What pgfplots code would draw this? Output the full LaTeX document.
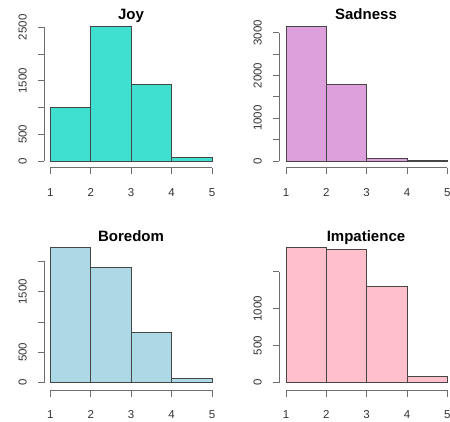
\documentclass[border=0pt]{standalone}
\usepackage{fontspec}
\setmainfont{Liberation Sans}
\usepackage{pgfplots}
\pgfplotsset{compat=1.18}
\definecolor{rturq}{RGB}{64,224,208}
\definecolor{rplum}{RGB}{221,160,221}
\definecolor{rlblue}{RGB}{173,216,230}
\definecolor{rpink}{RGB}{255,192,203}
\definecolor{axgray}{RGB}{110,110,110}
\definecolor{bargray}{RGB}{70,70,70}
\pgfplotsset{
  rhist/.style={
    anchor=south west,
    axis x line*=bottom, axis y line*=left,
    axis line style={draw=none},
    tick align=outside,
    major tick length=6.5pt,
    tick style={axgray, line width=0.9pt},
    xtick={1,2,3,4,5},
    xticklabels={1,2,3,4,5},
    xmax=5.2,
    clip=false,
    /pgf/number format/assume math mode=true,
    tick label style={font=\fontsize{11.5}{13}\selectfont, text=black!80},
    xticklabel style={anchor=base, yshift=-21.8pt},
    yticklabel style={xshift=-11.1pt, rotate=90, anchor=base},
  },
  rbar/.style={ybar, bar width=1, draw=bargray, line width=0.8pt, fill=#1},
}
\begin{document}
\begin{tikzpicture}
\path[use as bounding box] (0,0) rectangle (450pt,421pt);
\clip (0,0) rectangle (450pt,421pt);
% Joy
\begin{axis}[rhist, at={(44.3pt,253.3pt)},
  x=40.43pt, y=0.05348pt, xmin=0.8516, ymin=-125.3, ymax=2650,
  ytick={0,500,1000,1500,2000,2500}, yticklabels={0,500,,1500,,2500}]
\addplot[rbar=rturq] coordinates {(1.5,1005) (2.5,2510) (3.5,1435) (4.5,65)};
\draw[axgray, line width=0.9pt] (axis cs:1,-125.3) -- (axis cs:5,-125.3);
\draw[axgray, line width=0.9pt] (axis cs:0.8516,0) -- (axis cs:0.8516,2500);
\end{axis}
% Sadness
\begin{axis}[rhist, at={(279.3pt,253.3pt)},
  x=40.33pt, y=0.04278pt, xmin=0.8339, ymin=-156.6, ymax=3300,
  ytick={0,500,1000,1500,2000,2500,3000}, yticklabels={0,,1000,,2000,,3000}]
\addplot[rbar=rplum] coordinates {(1.5,3150) (2.5,1795) (3.5,70) (4.5,3)};
\draw[axgray, line width=0.9pt] (axis cs:1,-156.6) -- (axis cs:5,-156.6);
\draw[axgray, line width=0.9pt] (axis cs:0.8339,0) -- (axis cs:0.8339,3000);
\end{axis}
% Boredom
\begin{axis}[rhist, at={(44.3pt,31pt)},
  x=40.43pt, y=0.06067pt, xmin=0.8516, ymin=-120.3, ymax=2350,
  ytick={0,500,1000,1500,2000}, yticklabels={0,500,,1500,}]
\addplot[rbar=rlblue] coordinates {(1.5,2225) (2.5,1895) (3.5,825) (4.5,65)};
\draw[axgray, line width=0.9pt] (axis cs:1,-120.3) -- (axis cs:5,-120.3);
\draw[axgray, line width=0.9pt] (axis cs:0.8516,0) -- (axis cs:0.8516,2000);
\end{axis}
% Impatience
\begin{axis}[rhist, at={(279.3pt,31pt)},
  x=40.33pt, y=0.074pt, xmin=0.8339, ymin=-98.6, ymax=1950,
  ytick={0,500,1000,1500}, yticklabels={0,500,1000,}]
\addplot[rbar=rpink] coordinates {(1.5,1825) (2.5,1800) (3.5,1305) (4.5,80)};
\draw[axgray, line width=0.9pt] (axis cs:1,-98.6) -- (axis cs:5,-98.6);
\draw[axgray, line width=0.9pt] (axis cs:0.8339,0) -- (axis cs:0.8339,1500);
\end{axis}
% titles
\node[anchor=base, font=\fontsize{15}{18}\selectfont\bfseries] at (131pt,401.5pt) {Joy};
\node[anchor=base, font=\fontsize{15}{18}\selectfont\bfseries] at (366pt,401.5pt) {Sadness};
\node[anchor=base, font=\fontsize{15}{18}\selectfont\bfseries] at (131pt,179pt) {Boredom};
\node[anchor=base, font=\fontsize{15}{18}\selectfont\bfseries] at (366pt,179pt) {Impatience};
\end{tikzpicture}
\end{document}
